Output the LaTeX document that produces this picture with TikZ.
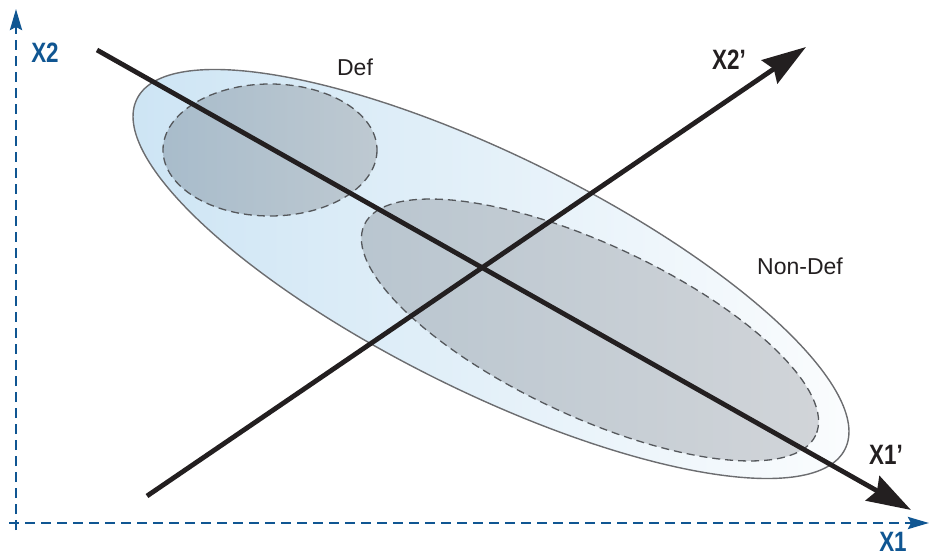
\documentclass[tikz,border=0pt]{standalone}
\usepackage{fontspec}
\setmainfont{Liberation Sans}
\newfontfamily\condfont[FakeStretch=0.8]{Liberation Sans}
\usepackage{xcolor}
\usetikzlibrary{arrows.meta}
\definecolor{axisblue}{RGB}{16,86,146}
\definecolor{rimgray}{RGB}{108,109,112}
\definecolor{dashgray}{RGB}{85,88,92}
\definecolor{inkblack}{RGB}{35,31,32}
\tikzset{
  cloud/.style    = {draw=rimgray, line width=1.4pt, left color={rgb,255:red,204;green,228;blue,244}, right color={rgb,255:red,252;green,253;blue,254}},
  defzone/.style  = {draw=dashgray, line width=1.3pt, dash pattern=on 8pt off 5pt, left color={rgb,255:red,168;green,188;blue,203}, right color={rgb,255:red,190;green,201;blue,209}},
  ndzone/.style   = {draw=dashgray, line width=1.3pt, dash pattern=on 8pt off 5pt, left color={rgb,255:red,184;green,197;blue,207}, right color={rgb,255:red,210;green,213;blue,217}},
  newaxis/.style  = {draw=inkblack, line width=4.8pt, -{Stealth[length=44pt,width=28pt,inset=5pt]}},
  oldaxis/.style  = {draw=axisblue, line width=2.8pt, dash pattern=on 10pt off 6pt, -{Stealth[length=21pt,width=12pt,inset=3pt]}},
  axlbl/.style    = {font=\condfont\bfseries\fontsize{28}{30}\selectfont, text=axisblue, inner sep=0pt},
  pclbl/.style    = {font=\condfont\bfseries\fontsize{28}{30}\selectfont, text=inkblack, inner sep=0pt},
  grplbl/.style   = {font=\fontsize{23}{26}\selectfont, text=inkblack, inner sep=0pt},
}

\begin{document}
\begin{tikzpicture}[x=1pt,y=-1pt]
  \useasboundingbox (0,0) rectangle (930,556);

  % population cloud and the two groups
  \path[cloud, rotate around={-26.3:(491,274)}] (491,274) ellipse [x radius=395, y radius=118];
  \path[defzone] (270,150) ellipse [x radius=107, y radius=66];
  \path[ndzone, rotate around={-25:(590,330)}] (590,330) ellipse [x radius=249, y radius=86];

  % rotated axes
  \coordinate (x1s) at (97,50);
  \coordinate (x1e) at (911,510);
  \coordinate (x2s) at (147,496);
  \coordinate (x2e) at (806,47);
  \draw[newaxis] (x1s) -- (x1e);
  \draw[newaxis] (x2s) -- (x2e);

  % original axes
  \coordinate (oy) at (16,530);
  \coordinate (ytip) at (16,9);
  \coordinate (ox) at (9,523);
  \coordinate (xtip) at (929,523);
  \draw[oldaxis] (oy) -- (ytip);
  \draw[oldaxis] (ox) -- (xtip);

  \node[axlbl] (lblX2) at (45,53) {X2};
  \node[axlbl] (lblX1) at (893,542) {X1};
  \node[pclbl] (lblX2p) at (729,60) {X2’};
  \node[pclbl] (lblX1p) at (886,455) {X1’};
  \node[grplbl] (lblDef) at (355,67) {Def};
  \node[grplbl] (lblNonDef) at (800,266) {Non-Def};
\end{tikzpicture}
\end{document}
